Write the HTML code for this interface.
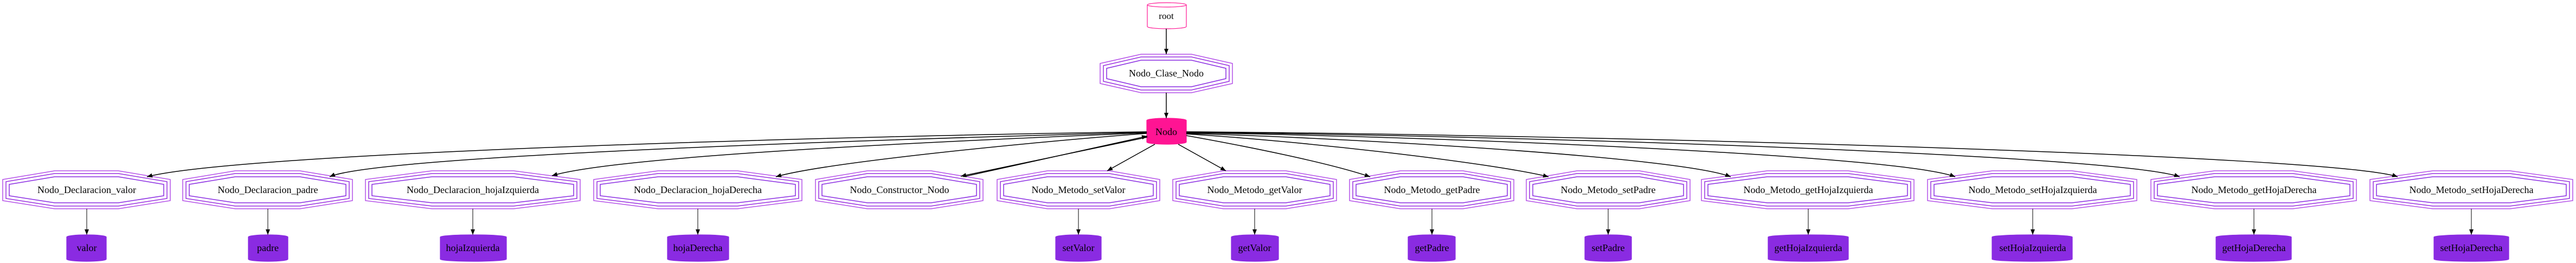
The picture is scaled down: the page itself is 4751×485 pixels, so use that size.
<!DOCTYPE html>
<html><head><meta charset="utf-8"><style>
html,body{margin:0;padding:0;background:#fff;}
svg{display:block;}
text{font-family:"Liberation Serif",serif;font-size:18px;text-anchor:middle;fill:#000;}
</style></head><body>
<svg id="s" width="4751" height="485" viewBox="0 0 4751 485" xmlns="http://www.w3.org/2000/svg">
<defs>
<marker id="a" markerWidth="10" markerHeight="8" refX="10" refY="4" orient="auto" markerUnits="userSpaceOnUse">
<path d="M0,0 L10,4 L0,8 Z" fill="#000"/></marker>
</defs>
<g id="shapes"></g>
<g fill="none" stroke="#000" stroke-width="1.5" marker-end="url(#a)">
<path d="M2151,53 L2151,100"/>
<path d="M2151,171 L2151,218"/>
<path d="M2115,243 C1600,250 450,280 271,326"/>
<path d="M2115,244 C1700,255 700,285 608,326"/>
<path d="M2115,245 C1800,258 1150,285 1018,324"/>
<path d="M2115,246 C1900,262 1520,300 1431,326"/>
<path d="M2116,253 L1772,325"/>
<path d="M1777,326 L2116,251"/>
<path d="M2130,266 L2042,315"/>
<path d="M2173,266 L2261,315"/>
<path d="M2188,250 C2300,270 2450,300 2527,326"/>
<path d="M2188,247 C2400,260 2750,300 2856,326"/>
<path d="M2188,246 C2500,255 3100,290 3192,326"/>
<path d="M2188,245 C2600,250 3500,285 3606,326"/>
<path d="M2188,244 C2800,250 3900,285 4020,326"/>
<path d="M2188,243 C2900,248 4300,285 4422,326"/>
</g>
<g fill="none" stroke="#000" stroke-width="1" marker-end="url(#a)">
<path d="M160,385 V433"/><path d="M494,385 V433"/><path d="M872,385 V433"/><path d="M1287,385 V433"/>
<path d="M1989,385 V433"/><path d="M2314,385 V433"/><path d="M2641,385 V433"/><path d="M2966,385 V433"/>
<path d="M3335,385 V433"/><path d="M3749,385 V433"/><path d="M4157,385 V433"/><path d="M4558,385 V433"/>
</g>
<text x="2151" y="35" style="font-size:17px">root</text>
<text x="2151" y="141">Nodo_Clase_Nodo</text>
<text x="2151" y="249">Nodo</text>
<text x="160" y="356">Nodo_Declaracion_valor</text>
<text x="494" y="356">Nodo_Declaracion_padre</text>
<text x="872" y="356">Nodo_Declaracion_hojaIzquierda</text>
<text x="1287" y="356">Nodo_Declaracion_hojaDerecha</text>
<text x="1659" y="356">Nodo_Constructor_Nodo</text>
<text x="1989" y="356">Nodo_Metodo_setValor</text>
<text x="2314" y="356">Nodo_Metodo_getValor</text>
<text x="2641" y="356">Nodo_Metodo_getPadre</text>
<text x="2966" y="356">Nodo_Metodo_setPadre</text>
<text x="3335" y="356">Nodo_Metodo_getHojaIzquierda</text>
<text x="3749" y="356">Nodo_Metodo_setHojaIzquierda</text>
<text x="4157" y="356">Nodo_Metodo_getHojaDerecha</text>
<text x="4558" y="356">Nodo_Metodo_setHojaDerecha</text>
<text x="160" y="463">valor</text>
<text x="494" y="463">padre</text>
<text x="872" y="463">hojaIzquierda</text>
<text x="1287" y="463">hojaDerecha</text>
<text x="1989" y="463">setValor</text>
<text x="2314" y="463">getValor</text>
<text x="2641" y="463">getPadre</text>
<text x="2966" y="463">setPadre</text>
<text x="3335" y="463">getHojaIzquierda</text>
<text x="3749" y="463">setHojaIzquierda</text>
<text x="4157" y="463">getHojaDerecha</text>
<text x="4558" y="463">setHojaDerecha</text>
</svg>
<script>
(function(){
var g=document.getElementById('shapes'),h='';
var L=[[0,0,0,'#b450e8'],[6,5,4,'#9a30e0'],[12,11,9,'#8a2be2']];
function oct(x0,x1,y0,y1,s0,s1){
 var W=x1-x0,t=0.31*W,out='';
 L.forEach(function(l){
  var dx=l[0],dy=l[1],ds=l[2];
  var p=[[x0+t,y0+dy],[x1-t,y0+dy],[x1-dx,s0+ds],[x1-dx,s1-ds],[x1-t,y1-dy],[x0+t,y1-dy],[x0+dx,s1-ds],[x0+dx,s0+ds]];
  out+='<polygon points="'+p.map(function(q){return q[0].toFixed(1)+','+q[1].toFixed(1)}).join(' ')+'" fill="none" stroke="'+l[3]+'" stroke-width="1.5"/>';
 });
 return out;
}
function cyl(x0,x1,y0,y1,fill,stroke){
 var rx=(x1-x0)/2,ry=4;
 var d='M'+x0+','+(y0+ry)+' A'+rx+','+ry+' 0 0 1 '+x1+','+(y0+ry)+' V'+(y1-ry)+' A'+rx+','+ry+' 0 0 1 '+x0+','+(y1-ry)+' Z';
 var o='<path d="'+d+'" fill="'+fill+'" stroke="'+stroke+'" stroke-width="1.2"/>';
 o+='<path d="M'+x0+','+(y0+ry)+' A'+rx+','+ry+' 0 0 0 '+x1+','+(y0+ry)+'" fill="none" stroke="'+stroke+'" stroke-width="1.2"/>';
 return o;
}
h+=cyl(2116,2188,5,53,'#fff','#ff1493');
h+=cyl(2115,2188,218,266,'#ff1493','#ff1493');
h+=oct(2029,2273,100,171,117,154);
var O=[[5,314],[337,650],[674,1070],[1095,1479],[1504,1813],[1839,2139],[2163,2465],[2489,2792],[2815,3117],[3138,3530],[3555,3941],[3967,4346],[4371,4745]];
O.forEach(function(o){h+=oct(o[0],o[1],315,385,331,370);});
var C=[[123,196],[458,531],[812,934],[1231,1344],[1947,2031],[2271,2358],[2597,2684],[2923,3009],[3261,3409],[3674,3822],[4087,4226],[4489,4627]];
C.forEach(function(c){h+=cyl(c[0],c[1],433,482,'#8a2be2','#8a2be2');});
g.innerHTML=h;
})();
</script>
</body></html>
